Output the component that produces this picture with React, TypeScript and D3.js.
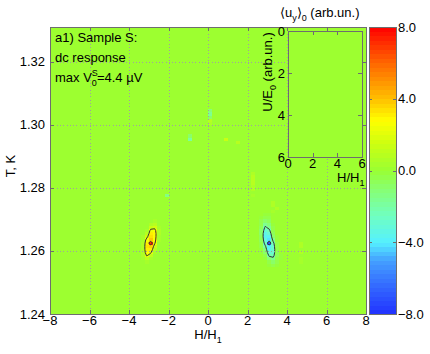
import * as d3 from "d3";

const WIDTH = 430;
const HEIGHT = 354;

// measurement grid (cell lower-left corners)
const H_START = -8;
const H_STEP = 0.2;
const H_COUNT = 80;
const T_START = 1.24;
const T_STEP = 0.001;
const T_COUNT = 91;

const xTicks = [-8, -6, -4, -2, 0, 2, 4, 6, 8];
const yTicks = [1.24, 1.26, 1.28, 1.3, 1.32];
const colorTicks = [-8, -4, 0, 4, 8];
const insetTicks = [0, 2, 4, 6];
const contourLevels = [2, 5];

// positive peak near H/H1 = -3
const posPeakH = [-3.6, -3.4, -3.2, -3.0, -2.8, -2.6];
const posPeakT = [1.269, 1.268, 1.267, 1.266, 1.265, 1.264, 1.263, 1.262, 1.261, 1.26, 1.259, 1.258, 1.257, 1.256];
const posPeakValues = [
  [0, 0, 0, 0.2, 0.3, 0],
  [0, 0, 0, 0.6, 0.8, 0.2],
  [0, 0, 0.2, 1.4, 1.6, 0.4],
  [0, 0, 0.4, 2.4, 2.5, 0.5],
  [0, 0.2, 0.8, 3.0, 2.8, 0.5],
  [0, 0.3, 1.6, 3.4, 2.8, 0.4],
  [0, 0.4, 2.6, 3.8, 2.6, 0.3],
  [0, 0.5, 3.2, 7.0, 2.2, 0.2],
  [0, 0.6, 3.4, 3.6, 1.4, 0.1],
  [0, 0.7, 3.2, 3.0, 0.8, 0],
  [0, 0.7, 2.8, 2.2, 0.4, 0],
  [0, 0.5, 2.1, 1.2, 0.2, 0],
  [0, 0.3, 1.0, 0.4, 0, 0],
  [0, 0.1, 0.3, 0.1, 0, 0],
];

// negative peak near H/H1 = +3
const negPeakH = [2.6, 2.8, 3.0, 3.2, 3.4, 3.6];
const negPeakT = [1.271, 1.27, 1.269, 1.268, 1.267, 1.266, 1.265, 1.264, 1.263, 1.262, 1.261, 1.26, 1.259, 1.258, 1.257, 1.256, 1.255];
const negPeakValues = [
  [0, -0.2, -0.1, 0, 0, 0],
  [-0.1, -0.5, -0.3, 0, 0, 0],
  [-0.3, -1.0, -0.6, 0, 0, 0],
  [-0.5, -1.6, -1.1, -0.2, 0, 0],
  [-0.7, -2.2, -1.6, -0.3, 0, 0],
  [-0.8, -2.8, -2.3, -0.5, 0, 0],
  [-0.8, -3.4, -3.0, -0.7, 0, 0],
  [-0.7, -3.6, -3.6, -1.0, -0.1, 0],
  [-0.6, -3.2, -4.2, -1.6, -0.2, 0],
  [-0.5, -2.6, -7.0, -2.4, -0.3, 0],
  [-0.3, -1.8, -4.0, -2.8, -0.4, 0],
  [-0.2, -1.2, -3.6, -3.0, -0.5, 0],
  [-0.1, -0.8, -3.0, -2.8, -0.6, 0],
  [0, -0.4, -2.2, -2.4, -0.6, -0.1],
  [0, -0.2, -1.2, -1.6, -0.5, -0.1],
  [0, 0, -0.5, -0.8, -0.3, 0],
  [0, 0, -0.2, -0.3, -0.1, 0],
];

// isolated weak pixels [H/H1, T, value]
const speckles: [number, number, number][] = [
  [0.0, 1.304, -1.2], [0.0, 1.303, -1.6], [0.0, 1.302, -0.9], [0.0, 1.301, 0.8], [0.0, 1.3, 0.6],
  [-1.0, 1.295, -1.8], [-1.0, 1.296, -0.8],
  [0.8, 1.295, 1.4], [1.4, 1.294, 0.8],
  [2.2, 1.284, 0.5], [2.2, 1.283, 0.8], [2.2, 1.282, 0.9], [2.2, 1.281, 0.8], [2.2, 1.28, 0.6], [2.2, 1.279, 0.5], [2.2, 1.277, 0.4],
  [3.2, 1.275, 0.5], [3.2, 1.274, 0.6], [3.4, 1.273, 0.5], [3.2, 1.272, 0.4],
  [4.6, 1.262, 0.5], [4.6, 1.261, 0.6], [4.6, 1.259, 0.5], [4.6, 1.257, 0.4], [4.6, 1.256, 0.4],
  [-2.2, 1.277, -1.5],
];

// colour map stops
const cmapValues = [-8, -6.5, -5, -4, -2.5, -1, 0, 1.5, 2.8, 4, 6, 8];
const cmapColors = ["#2030ff", "#3366ff", "#44a0ff", "#55f0ff", "#70ffc0", "#88ff70", "#99ff33", "#ccff11", "#ffff00", "#ffc000", "#ff6600", "#ff0000"];
const N_BANDS = 64;

const font = "'Liberation Sans', Arial, Helvetica, sans-serif";
const axisColor = "#6e6e6e";

const App = () => {
  const x = d3.scaleLinear().domain([-8, 8]).range([50, 366]);
  const y = d3.scaleLinear().domain([1.24, 1.3311]).range([314, 27]);
  const cy = d3.scaleLinear().domain([-8, 8]).range([314, 27]);
  const ix = d3.scaleLinear().domain([0, 6]).range([288, 362]);
  const iy = d3.scaleLinear().domain([0, 6]).range([31, 157]);

  const cmap = d3.scaleLinear<string>().domain(cmapValues).range(cmapColors).interpolate(d3.interpolateRgb);
  const band = (v: number) => Math.max(0, Math.min(N_BANDS - 1, Math.floor(((v + 8) / 16) * N_BANDS)));
  const bandColor = (i: number) => cmap(-8 + ((i + 0.5) * 16) / N_BANDS);
  const color = (v: number) => bandColor(band(v));

  // assemble the grid
  const grid: number[] = new Array(H_COUNT * T_COUNT).fill(0);
  const put = (h: number, t: number, v: number) => {
    const i = Math.round((h - H_START) / H_STEP);
    const j = Math.round((t - T_START) / T_STEP);
    if (i >= 0 && i < H_COUNT && j >= 0 && j < T_COUNT) grid[i + j * H_COUNT] = v;
  };
  posPeakT.forEach((t, r) => posPeakH.forEach((h, c) => put(h, t, posPeakValues[r][c])));
  negPeakT.forEach((t, r) => negPeakH.forEach((h, c) => put(h, t, negPeakValues[r][c])));
  speckles.forEach(([h, t, v]) => put(h, t, v));

  const cells: { h: number; t: number; v: number }[] = [];
  grid.forEach((v, k) => {
    if (v !== 0 && band(v) !== band(0)) {
      const i = k % H_COUNT;
      const j = Math.floor(k / H_COUNT);
      cells.push({ h: H_START + i * H_STEP, t: T_START + j * T_STEP, v });
    }
  });

  const contours = d3.contours().size([H_COUNT, T_COUNT]).thresholds(contourLevels);
  const rings = [...contours(grid), ...contours(grid.map((v) => -v))];
  const proj = d3.geoTransform({
    point(px: number, py: number) {
      this.stream.point(x(H_START + px * H_STEP), y(T_START + py * T_STEP));
    },
  });
  const path = d3.geoPath(proj);

  const fmtMinus = (s: string) => s.replace("-", "\u2212");
  const px = (v: number) => Math.round(v) + 0.5;

  return (
    <div style={{ position: "fixed", left: 0, top: 0 }}>
      <svg width={WIDTH} height={HEIGHT} fontFamily={font} fontSize={13}>
        <rect width={WIDTH} height={HEIGHT} fill="#fff" />
        {/* map */}
        <rect x={50} y={27} width={316} height={287} fill={color(0)} />
        <g shapeRendering="crispEdges">
          {cells.map((d, k) => (
            <rect
              key={k}
              x={x(d.h)}
              y={y(d.t + T_STEP)}
              width={x(d.h + H_STEP) - x(d.h)}
              height={y(d.t) - y(d.t + T_STEP)}
              fill={color(d.v)}
            />
          ))}
        </g>
        {rings.map((r, k) => (
          <path key={k} d={path(r as any) || ""} fill="none" stroke="#333" strokeWidth={1} />
        ))}
        {/* grid */}
        <g stroke="#a0a0a0" strokeDasharray="1,2.3" strokeWidth={1} shapeRendering="crispEdges">
          {xTicks.slice(1, -1).map((t) => (
            <line key={t} x1={px(x(t))} x2={px(x(t))} y1={27} y2={314} />
          ))}
          {yTicks.slice(1).map((t) => (
            <line key={t} x1={50} x2={366} y1={px(y(t))} y2={px(y(t))} />
          ))}
        </g>
        {/* frame + ticks */}
        <g stroke={axisColor} fill="none" shapeRendering="crispEdges">
          <rect x={50.5} y={27.5} width={316} height={287} />
          {xTicks.map((t) => (
            <g key={t}>
              <line x1={px(x(t))} x2={px(x(t))} y1={314} y2={310} />
              <line x1={px(x(t))} x2={px(x(t))} y1={27} y2={31} />
            </g>
          ))}
          {yTicks.map((t) => (
            <g key={t}>
              <line x1={50} x2={54} y1={px(y(t))} y2={px(y(t))} />
              <line x1={366} x2={362} y1={px(y(t))} y2={px(y(t))} />
            </g>
          ))}
        </g>
        {xTicks.map((t) => (
          <text key={t} x={x(t)} y={325} textAnchor="middle">
            {fmtMinus(String(t))}
          </text>
        ))}
        {yTicks.map((t) => (
          <text key={t} x={45} y={y(t) + 4.5} textAnchor="end">
            {t.toFixed(2)}
          </text>
        ))}
        <text x={208} y={339} textAnchor="middle">
          H/H<tspan fontSize={9} dy={4}>1</tspan>
        </text>
        <text transform="translate(15,166) rotate(-90)" textAnchor="middle">
          T, K
        </text>
        {/* annotation */}
        <text x={55} y={42}>a1) Sample S:</text>
        <text x={55} y={62}>dc response</text>
        <text x={55} y={82}>
          max V<tspan fontSize={9} dy={-6}>S</tspan>
          <tspan fontSize={9} dx={-6} dy={10}>0</tspan>
          <tspan dy={-4}>=4.4 {"\u00b5"}V</tspan>
        </text>
        {/* inset */}
        <rect x={288.5} y={31.5} width={74} height={126} fill={color(0)} stroke={axisColor} shapeRendering="crispEdges" />
        <g stroke={axisColor} shapeRendering="crispEdges">
          {insetTicks.map((t) => (
            <g key={t}>
              <line x1={px(ix(t))} x2={px(ix(t))} y1={157} y2={153} />
              <line x1={px(ix(t))} x2={px(ix(t))} y1={31} y2={35} />
              <line x1={288} x2={292} y1={px(iy(t))} y2={px(iy(t))} />
              <line x1={362} x2={358} y1={px(iy(t))} y2={px(iy(t))} />
            </g>
          ))}
        </g>
        {insetTicks.map((t) => (
          <text key={t} x={ix(t)} y={168} textAnchor="middle">
            {t}
          </text>
        ))}
        {insetTicks.map((t) => (
          <text key={t} x={285} y={iy(t) + 4.5} textAnchor="end">
            {t}
          </text>
        ))}
        <text x={337} y={182}>
          H/H<tspan fontSize={9} dy={4}>1</tspan>
        </text>
        <text transform="translate(272,72) rotate(-90)" textAnchor="middle">
          U/E<tspan fontSize={9} dy={4}>0</tspan>
          <tspan dy={-4}> (arb.un.)</tspan>
        </text>
        <text x={280} y={17}>
          {"\u27e8"}u<tspan fontSize={9} dy={4}>y</tspan>
          <tspan dy={-4}>{"\u27e9"}</tspan>
          <tspan fontSize={9} dy={4}>0</tspan>
          <tspan dy={-4}> (arb.un.)</tspan>
        </text>
        {/* colour bar */}
        <g shapeRendering="crispEdges">
          {d3.range(N_BANDS).map((i) => (
            <rect
              key={i}
              x={369}
              y={cy(-8 + ((i + 1) * 16) / N_BANDS)}
              width={27}
              height={cy(-8) - cy(-8 + 16 / N_BANDS) + 0.5}
              fill={bandColor(i)}
            />
          ))}
        </g>
        <rect x={369.5} y={27.5} width={27} height={287} fill="none" stroke={axisColor} shapeRendering="crispEdges" />
        <g stroke={axisColor} shapeRendering="crispEdges">
          {colorTicks.map((t) => (
            <g key={t}>
              <line x1={369} x2={372} y1={px(cy(t))} y2={px(cy(t))} />
              <line x1={396} x2={393} y1={px(cy(t))} y2={px(cy(t))} />
            </g>
          ))}
        </g>
        {colorTicks.map((t) => (
          <text key={t} x={398} y={cy(t) + 4.5}>
            {fmtMinus(t.toFixed(1))}
          </text>
        ))}
      </svg>
    </div>
  );
};

export default App;
